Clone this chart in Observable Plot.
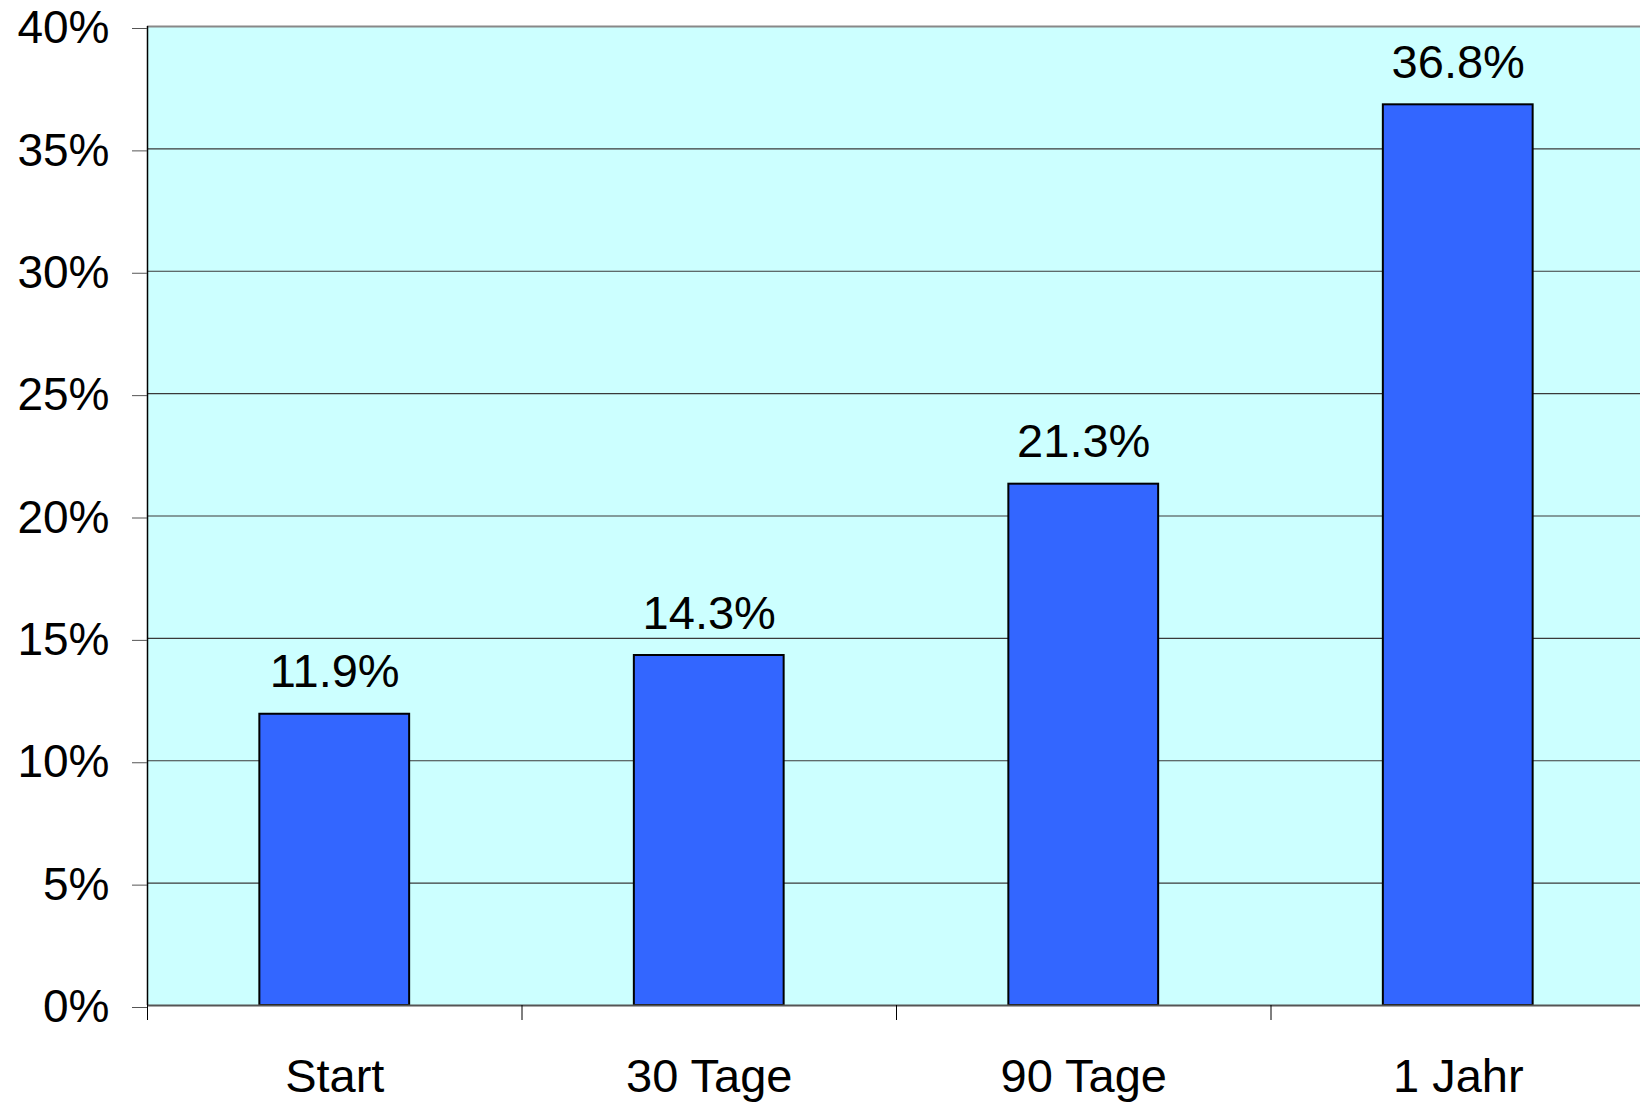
<!DOCTYPE html>
<html>
<head>
<meta charset="utf-8">
<script src="https://cdn.jsdelivr.net/npm/d3@7"></script>
<script src="https://cdn.jsdelivr.net/npm/@observablehq/plot@0.6"></script>
<style>
  html, body { margin: 0; padding: 0; background: #ffffff; }
  #chart svg { display: block; }
</style>
</head>
<body>
<div id="chart"></div>
<script>
// Zeitpunkte und Anteilswerte (in Prozent)
const categories = ["Start", "30 Tage", "90 Tage", "1 Jahr"];
const values = [11.9, 14.3, 21.3, 36.8];
const valueLabels = ["11.9%", "14.3%", "21.3%", "36.8%"];
const yTicks = [0, 5, 10, 15, 20, 25, 30, 35, 40];
const gridValues = [5, 10, 15, 20, 25, 30, 35];

const rows = categories.map((c, i) => ({ category: c, index: i, value: values[i], label: valueLabels[i] }));
const boundaries = d3.range(categories.length + 1);

const font = "'Liberation Sans', Arial, Helvetica, sans-serif";

const chart = Plot.plot({
  width: 1640,
  height: 1102,
  marginLeft: 147,
  marginRight: 0,
  marginTop: 26,
  marginBottom: 97,
  style: { fontFamily: font, background: "transparent", overflow: "visible" },
  x: { domain: [0, categories.length], range: [147, 1645] },
  y: { domain: [0, 40], range: [1005, 26] },
  marks: [
    Plot.frame({ fill: "#ccffff", stroke: null }),
    Plot.ruleY(gridValues, { stroke: "#3a3a3a", strokeWidth: 1.2 }),
    Plot.ruleY([40], { stroke: "#888888", strokeWidth: 2 }),
    Plot.rectY(rows, {
      x1: d => d.index + 0.3,
      x2: d => d.index + 0.7,
      y: "value",
      fill: "#3366ff",
      stroke: "#000000",
      strokeWidth: 2
    }),
    Plot.ruleY([0], { stroke: "#555555", strokeWidth: 2 }),
    Plot.ruleX([0], { y1: 0, y2: 40, stroke: "#000000", strokeWidth: 1.5 }),
    Plot.axisY({
      ticks: yTicks,
      tickSize: 15,
      tickPadding: 23,
      tickFormat: d => d + "%",
      fontSize: 46,
      dy: 2,
      stroke: "#555555",
      fill: "#000000",
      label: null
    }),
    Plot.axisX({
      ticks: boundaries,
      tickSize: 15,
      tickFormat: () => "",
      stroke: "#000000",
      label: null
    }),
    Plot.text(rows, {
      x: d => d.index + 0.5,
      y: "value",
      text: "label",
      lineAnchor: "bottom",
      dy: -27,
      fontSize: 47,
      fill: "#000000"
    }),
    Plot.text(rows, {
      x: d => d.index + 0.5,
      y: () => 0,
      text: "category",
      lineAnchor: "bottom",
      dy: 86,
      fontSize: 47,
      fill: "#000000",
      style: { wordSpacing: "4px" }
    })
  ]
});

document.getElementById("chart").appendChild(chart);
</script>
</body>
</html>
